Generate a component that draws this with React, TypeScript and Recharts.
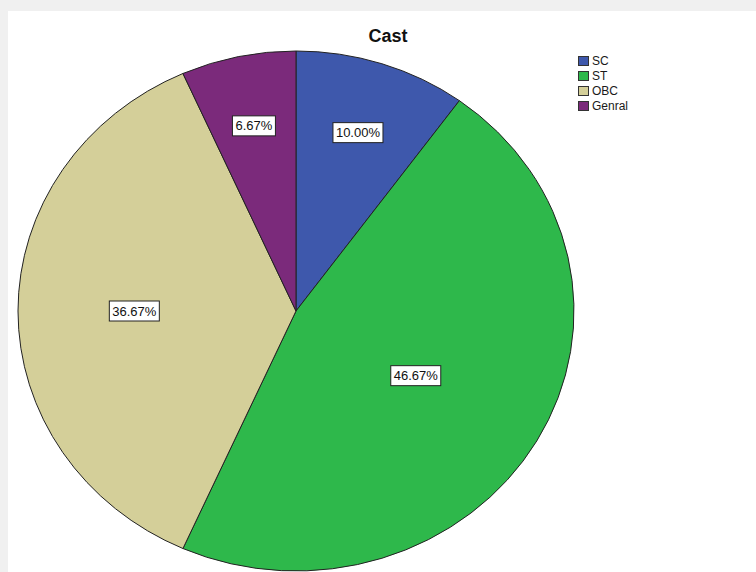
import { Cell, Legend, Pie, PieChart } from "recharts";

const categories = ["SC", "ST", "OBC", "Genral"];
const counts = [3, 14, 11, 2];
const colors = ["#3e58ac", "#2eb84b", "#d4cf99", "#7b2a7b"];

const chartData = categories.map((name, i) => ({ name, value: counts[i] }));

// SPSS draws the pie slightly stretched sideways
const X_STRETCH = 278 / 260;
const RAD = Math.PI / 180;

function EllipseSector(props: any) {
  const { cx, cy, outerRadius, startAngle, endAngle, fill } = props;
  const rx = outerRadius * X_STRETCH;
  const ry = outerRadius;
  const x1 = cx + rx * Math.cos(-startAngle * RAD);
  const y1 = cy + ry * Math.sin(-startAngle * RAD);
  const x2 = cx + rx * Math.cos(-endAngle * RAD);
  const y2 = cy + ry * Math.sin(-endAngle * RAD);
  const large = Math.abs(startAngle - endAngle) > 180 ? 1 : 0;
  const d = `M${cx},${cy} L${x1},${y1} A${rx},${ry} 0 ${large} 1 ${x2},${y2} Z`;
  return <path d={d} fill={fill} stroke="#222" strokeWidth={1} strokeLinejoin="round" />;
}

function PercentLabel(props: any) {
  const { cx, cy, outerRadius, midAngle, startAngle, endAngle, percent } = props;
  const span = Math.abs(endAngle - startAngle) * RAD;
  // a bit further out than the slice centroid
  const r = 1.1 * ((4 * outerRadius * Math.sin(span / 2)) / (3 * span));
  const x = cx + r * X_STRETCH * Math.cos(-midAngle * RAD);
  const y = cy + r * Math.sin(-midAngle * RAD);
  const text = `${(percent * 100).toFixed(2)}%`;
  const w = 8 + text.length * 7;
  const h = 20;
  return (
    <g>
      <rect x={x - w / 2} y={y - h / 2} width={w} height={h} fill="#fff" stroke="#222" strokeWidth={1} />
      <text
        x={x}
        y={y + 4.5}
        textAnchor="middle"
        fontFamily="Arial, 'Liberation Sans', sans-serif"
        fontSize={13}
        fill="#111"
      >
        {text}
      </text>
    </g>
  );
}

function LegendBox() {
  return (
    <div style={{ fontFamily: "Arial, 'Liberation Sans', sans-serif", fontSize: 12, color: "#1a1a1a" }}>
      {categories.map((name, i) => (
        <div key={name} style={{ display: "flex", alignItems: "center", height: 15 }}>
          <span
            style={{
              display: "inline-block",
              width: 11,
              height: 10,
              background: colors[i],
              border: "1px solid #333",
              boxSizing: "border-box",
              marginRight: 3,
            }}
          />
          {name}
        </div>
      ))}
    </div>
  );
}

export default function App() {
  return (
    <div style={{ position: "absolute", left: 0, top: 0, width: 756, height: 572, background: "#f0f0f0", overflow: "hidden" }}>
      <div style={{ position: "absolute", left: 8, top: 11, right: 0, bottom: 0, background: "#fff" }} />
      <div
        style={{
          position: "absolute",
          left: 0,
          width: 776,
          top: 26,
          textAlign: "center",
          fontFamily: "Arial, 'Liberation Sans', sans-serif",
          fontWeight: "bold",
          fontSize: 18,
          color: "#111",
        }}
      >
        Cast
      </div>
      <div style={{ position: "absolute", left: 0, top: 0 }}>
        <PieChart width={756} height={572} margin={{ top: 0, right: 0, bottom: 0, left: 0 }}>
          <Pie
            data={chartData}
            dataKey="value"
            nameKey="name"
            cx={296}
            cy={311}
            outerRadius={260}
            startAngle={90}
            endAngle={-270}
            shape={EllipseSector}
            label={PercentLabel}
            labelLine={false}
            isAnimationActive={false}
          >
            {chartData.map((d, i) => (
              <Cell key={d.name} fill={colors[i]} />
            ))}
          </Pie>
          <Legend
            layout="vertical"
            content={() => <LegendBox />}
            wrapperStyle={{ position: "absolute", left: 578, top: 53, width: 80 }}
          />
        </PieChart>
      </div>
    </div>
  );
}
